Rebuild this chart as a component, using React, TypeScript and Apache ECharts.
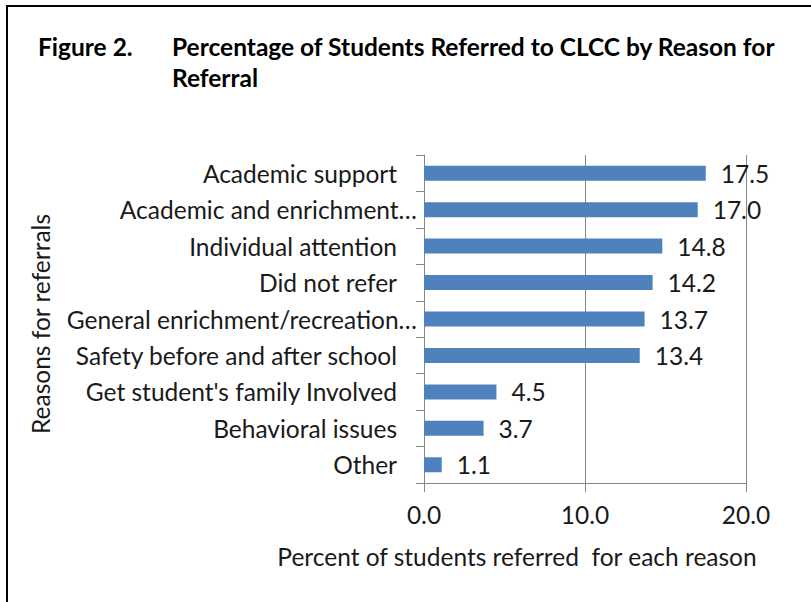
import React, { useEffect, useRef } from "react";
import * as echarts from "echarts";

const categories = [
  "Academic support",
  "Academic and enrichment…",
  "Individual attention",
  "Did not refer",
  "General enrichment/recreation…",
  "Safety before and after school",
  "Get student's family Involved",
  "Behavioral issues",
  "Other",
];
const values = [17.5, 17.0, 14.8, 14.2, 13.7, 13.4, 4.5, 3.7, 1.1];
const xTicks = [0, 10, 20];

const FONT = "Lato, 'Open Sans', sans-serif";
const FS = 24.5;

export default function App() {
  const ref = useRef<HTMLDivElement>(null);
  useEffect(() => {
    document.body.style.margin = "0";
    if (!ref.current) return;
    const chart = echarts.init(ref.current, undefined, { renderer: "svg" });
    chart.setOption({
      animation: false,
      backgroundColor: "#fff",
      grid: { left: 424, top: 155, width: 322, height: 328, containLabel: false },
      xAxis: {
        type: "value",
        min: xTicks[0],
        max: xTicks[xTicks.length - 1],
        interval: 10,
        axisLine: { show: true, lineStyle: { color: "#868686", width: 1 } },
        axisTick: { show: true, length: 9, lineStyle: { color: "#868686" } },
        splitLine: { show: true, lineStyle: { color: "#868686", width: 1 } },
        axisLabel: {
          formatter: (v: number) => v.toFixed(1),
          fontFamily: FONT,
          fontSize: FS,
          color: "#1a1a1a",
          margin: 19,
        },
      },
      yAxis: {
        type: "category",
        data: categories,
        inverse: true,
        axisLine: { show: true, lineStyle: { color: "#868686", width: 1 } },
        axisTick: { show: true, length: 8, lineStyle: { color: "#868686" } },
        axisLabel: {
          fontFamily: FONT,
          fontSize: FS,
          color: "#1a1a1a",
          margin: 7,
          formatter: (v: string) => (v.endsWith("…") ? v : v + "{sp|}"),
          rich: { sp: { width: 20 } },
        },
      },
      series: [
        {
          type: "bar",
          data: values,
          barWidth: 15,
          itemStyle: { color: "#4F81BD" },
          label: {
            show: true,
            position: "right",
            distance: 15,
            formatter: (p: any) => Number(p.value).toFixed(1),
            fontFamily: FONT,
            fontSize: FS,
            color: "#1a1a1a",
          },
        },
      ],
      graphic: [
        { type: "line", shape: { x1: 7, y1: 6, x2: 7, y2: 602 }, style: { stroke: "#000", lineWidth: 2 } },
        { type: "line", shape: { x1: 6, y1: 6, x2: 811, y2: 6 }, style: { stroke: "#000", lineWidth: 2 } },
        {
          type: "text",
          x: 38,
          y: 46,
          style: { text: "Figure 2.", font: `bold 24.5px ${FONT}`, fill: "#000", textVerticalAlign: "middle" },
        },
        {
          type: "text",
          x: 172,
          y: 46,
          style: {
            text: "Percentage of Students Referred to CLCC by Reason for",
            font: `bold 24.5px ${FONT}`,
            fill: "#000",
            textVerticalAlign: "middle",
          },
        },
        {
          type: "text",
          x: 172,
          y: 77,
          style: { text: "Referral", font: `bold 24.5px ${FONT}`, fill: "#000", textVerticalAlign: "middle" },
        },
        {
          type: "text",
          x: 40,
          y: 324,
          rotation: Math.PI / 2,
          style: {
            text: "Reasons for referrals",
            font: `${FS}px ${FONT}`,
            fill: "#1a1a1a",
            textAlign: "center",
            textVerticalAlign: "middle",
          },
        },
        {
          type: "text",
          x: 517,
          y: 556,
          style: {
            text: "Percent of students referred  for each reason",
            font: `${FS}px ${FONT}`,
            fill: "#1a1a1a",
            textAlign: "center",
            textVerticalAlign: "middle",
          },
        },
      ],
    });
    return () => chart.dispose();
  }, []);
  return <div ref={ref} style={{ width: 811, height: 602 }} />;
}
